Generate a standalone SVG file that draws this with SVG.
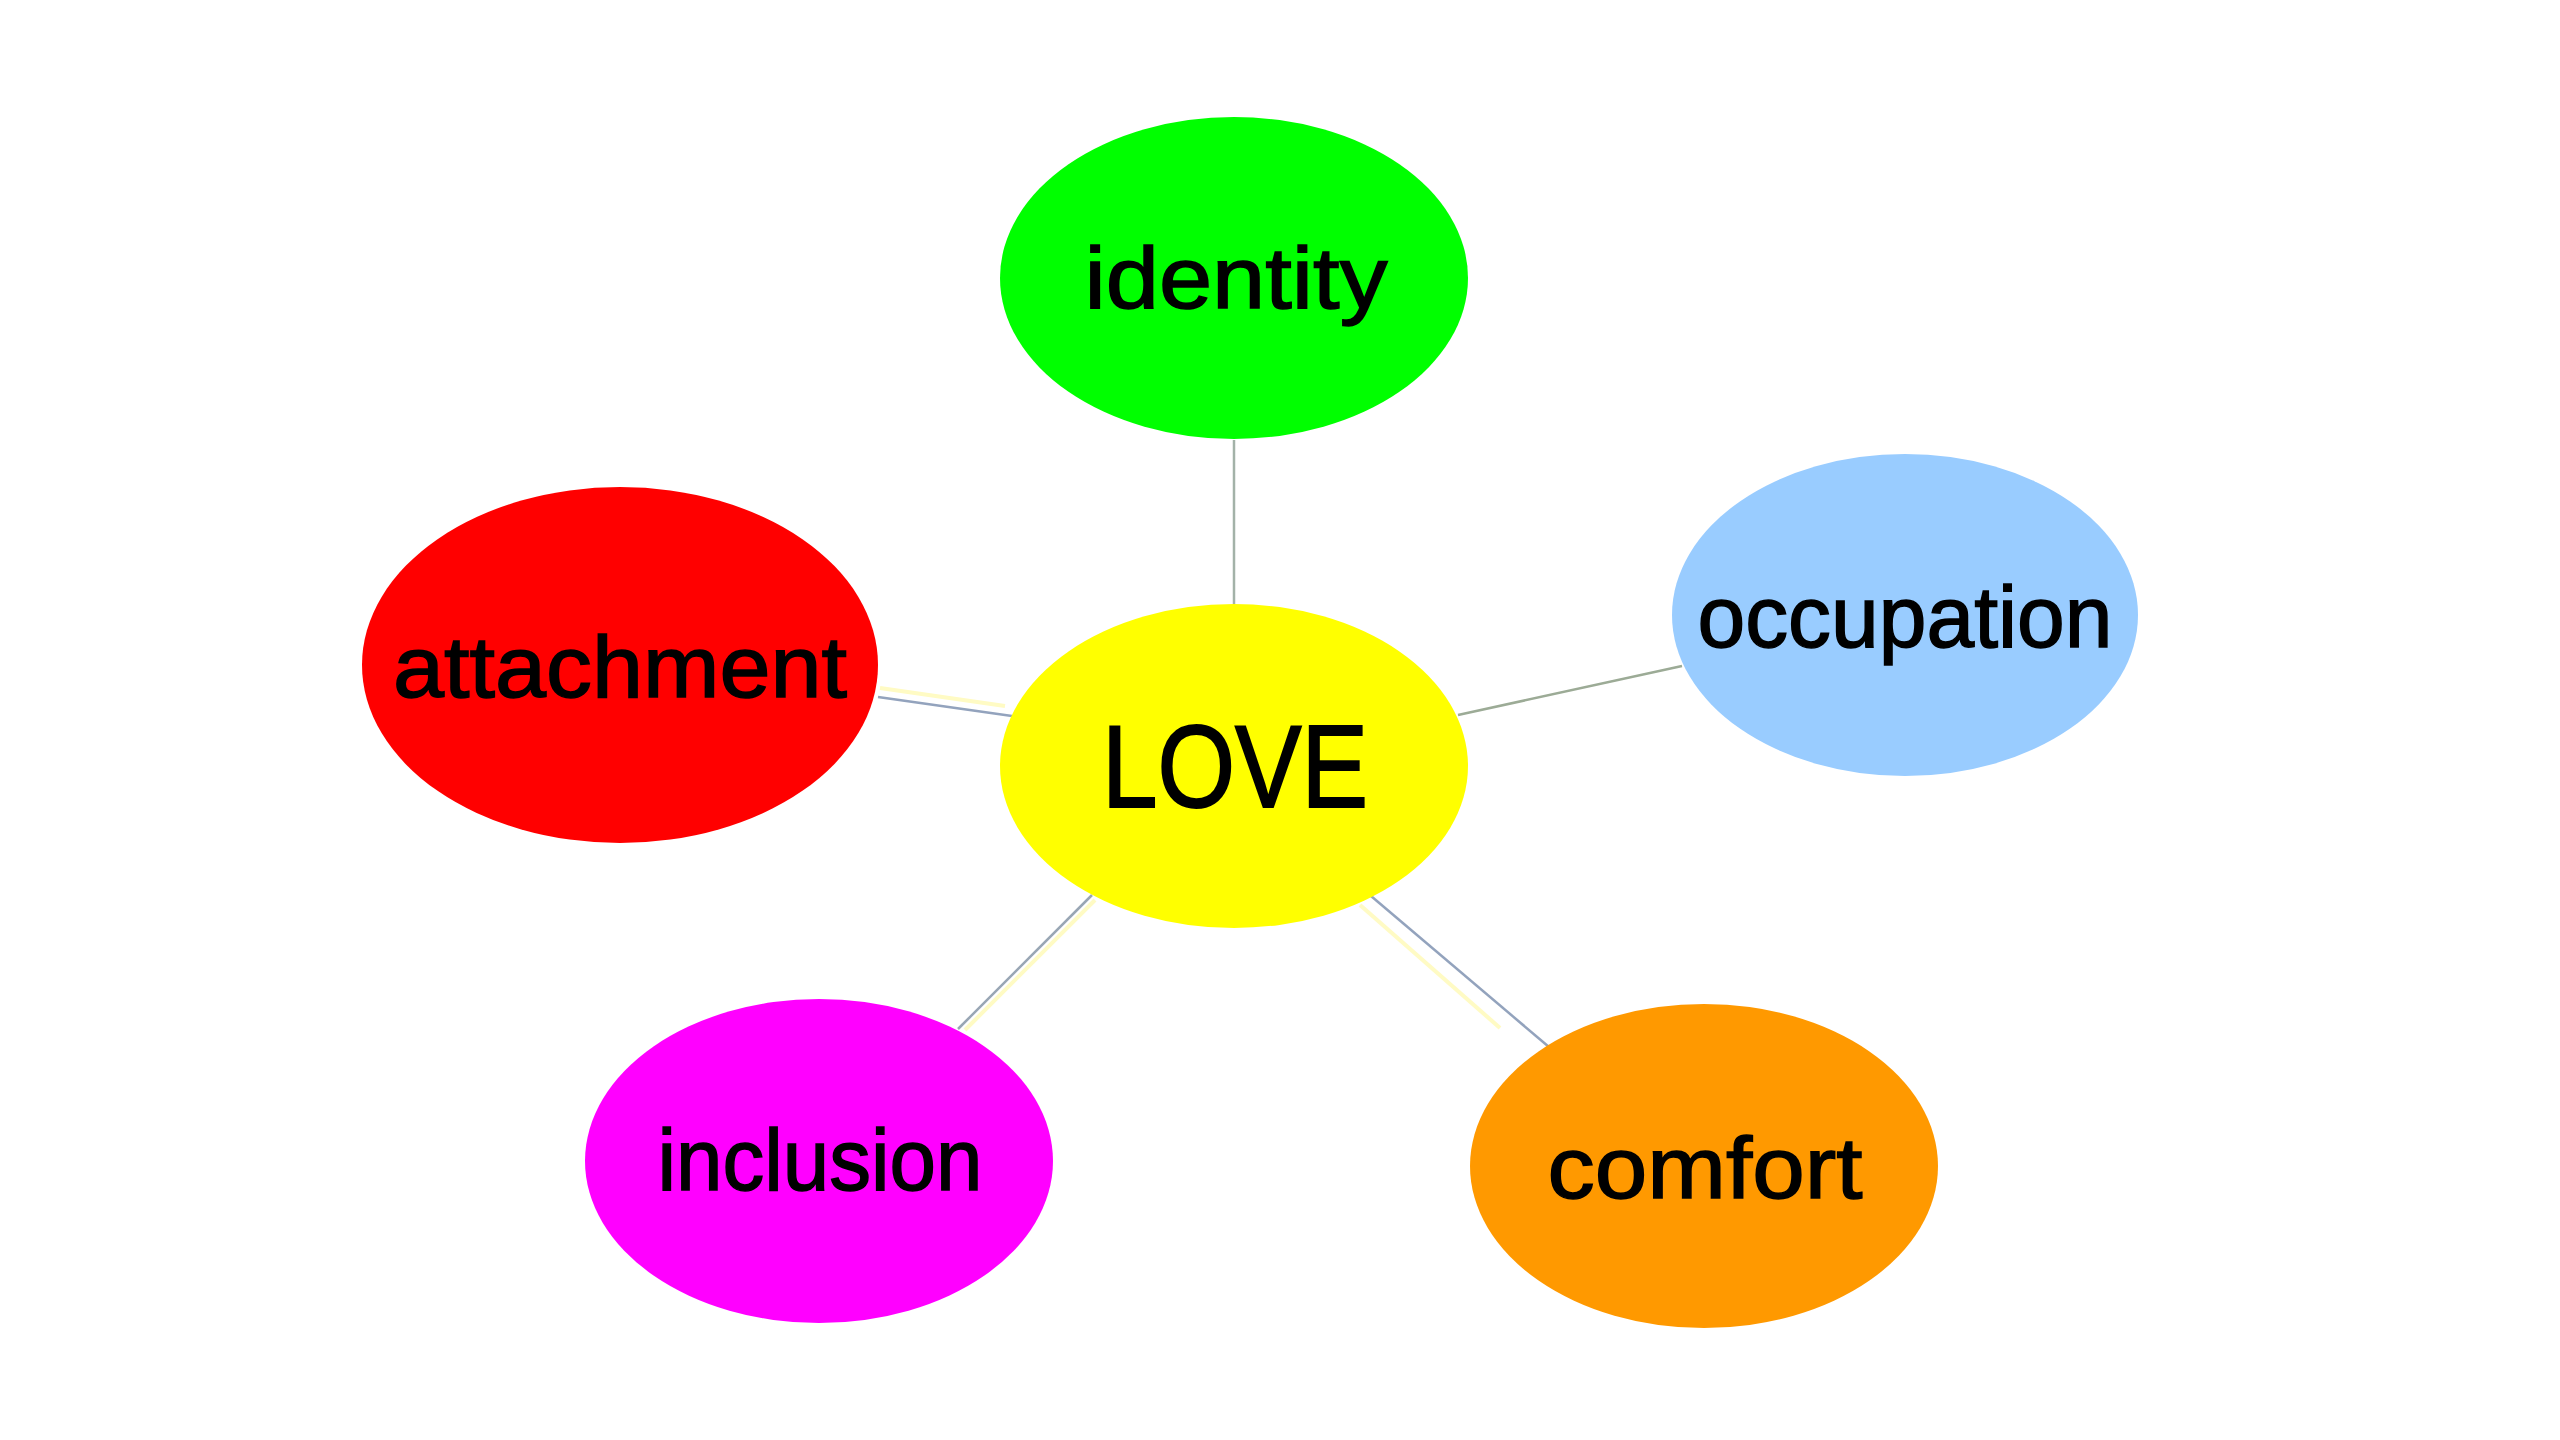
<svg xmlns="http://www.w3.org/2000/svg" width="2560" height="1440" viewBox="0 0 2560 1440">
<style>
.lbl{font-family:"Comic Sans MS","Liberation Sans",sans-serif;font-size:88px;fill:#000;stroke:#000;stroke-width:1.5;text-anchor:middle}
.love{font-size:117px;stroke-width:2}
.ln{stroke:#93a3bd;stroke-width:2.5;fill:none}
.sh{stroke:#fffbc4;stroke-width:4;fill:none}
</style>
<rect width="2560" height="1440" fill="#ffffff"/>
<g id="connectors">
<line class="sh" x1="880" y1="688" x2="1005" y2="706"/>
<line class="sh" x1="1360" y1="905" x2="1500" y2="1028"/>
<line class="sh" x1="1095" y1="900" x2="965" y2="1030"/>
<line class="ln" style="stroke:#a3b2a8" x1="1234" y1="440" x2="1234" y2="604"/>
<line class="ln" style="stroke:#9cab96" x1="1458" y1="715" x2="1682" y2="666"/>
<line class="ln" x1="878" y1="697" x2="1012" y2="716"/>
<line class="ln" style="stroke:#99a6b4" x1="1092" y1="895" x2="958" y2="1029"/>
<line class="ln" x1="1371" y1="896" x2="1549" y2="1047"/>
</g>
<g id="identity">
<ellipse cx="1234" cy="278" rx="234" ry="161" fill="#00ff00"/>
<text class="lbl" x="1236" y="308" textLength="303" lengthAdjust="spacingAndGlyphs">identity</text>
</g>
<g id="love">
<ellipse cx="1234" cy="766" rx="234" ry="162" fill="#ffff00"/>
<text class="lbl love" x="1235" y="807" textLength="266" lengthAdjust="spacingAndGlyphs">LOVE</text>
</g>
<g id="occupation">
<ellipse cx="1905" cy="615" rx="233" ry="161" fill="#99ccff"/>
<text class="lbl" x="1905" y="647" textLength="415" lengthAdjust="spacingAndGlyphs">occupation</text>
</g>
<g id="attachment">
<ellipse cx="620" cy="665" rx="258" ry="178" fill="#ff0000"/>
<text class="lbl" x="620" y="697" textLength="454" lengthAdjust="spacingAndGlyphs">attachment</text>
</g>
<g id="inclusion">
<ellipse cx="819" cy="1161" rx="234" ry="162" fill="#ff00ff"/>
<text class="lbl" x="820" y="1190" textLength="325" lengthAdjust="spacingAndGlyphs">inclusion</text>
</g>
<g id="comfort">
<ellipse cx="1704" cy="1166" rx="234" ry="162" fill="#ff9900"/>
<text class="lbl" x="1705" y="1198" textLength="315" lengthAdjust="spacingAndGlyphs">comfort</text>
</g>
</svg>
